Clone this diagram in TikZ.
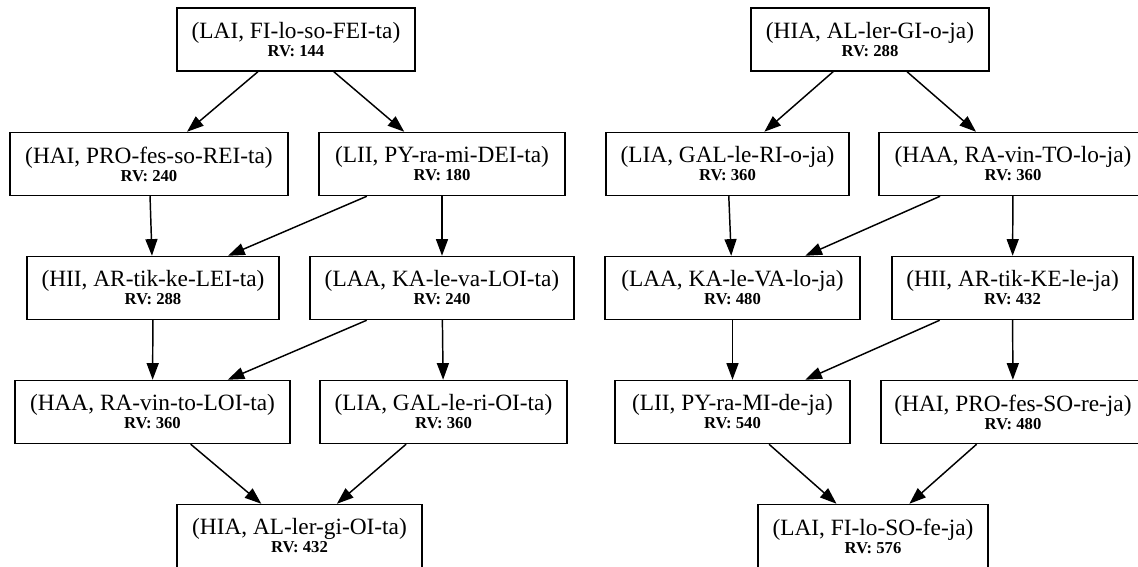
\documentclass[tikz,border=0pt]{standalone}
\usepackage{fontspec}
\setmainfont{Liberation Serif}
\usepackage{tikz}
\usetikzlibrary{positioning, arrows.meta, calc}

\newcommand{\rvtext}[2]{#1\\{\fontsize{12.5pt}{13.5pt}\selectfont\bfseries RV: #2}}

\tikzset{
  rvbox/.style={draw, fill=white, shape=rectangle, align=center, line width=1.1pt,
    minimum height=47.25pt, inner sep=0pt,
    font=\fontsize{17.5pt}{13.5pt}\selectfont},
}

\begin{document}
\begin{tikzpicture}[x=0.75pt,y=-0.75pt,->,>={Triangle[length=12.5pt,width=9pt]},line width=1.1pt]
  \useasboundingbox (0,0) rectangle (1138,567);
  % first tree (-ta)
  \node[rvbox, minimum width=178.5pt] (tlai) at (296,39.5)  {\rvtext{(LAI, FI-lo-so-FEI-ta)}{144}};
  \node[rvbox, minimum width=208.5pt] (thai) at (149,164)   {\rvtext{(HAI, PRO-fes-so-REI-ta)}{240}};
  \node[rvbox, minimum width=184.5pt] (tlii) at (442,164)   {\rvtext{(LII, PY-ra-mi-DEI-ta)}{180}};
  \node[rvbox, minimum width=189pt]   (thii) at (153,288)   {\rvtext{(HII, AR-tik-ke-LEI-ta)}{288}};
  \node[rvbox, minimum width=198pt]   (tlaa) at (442,288)   {\rvtext{(LAA, KA-le-va-LOI-ta)}{240}};
  \node[rvbox, minimum width=206.25pt] (thaa) at (152.5,412) {\rvtext{(HAA, RA-vin-to-LOI-ta)}{360}};
  \node[rvbox, minimum width=185.25pt] (tlia) at (443.5,412) {\rvtext{(LIA, GAL-le-ri-OI-ta)}{360}};
  \node[rvbox, minimum width=183.75pt] (thia) at (299.5,536) {\rvtext{(HIA, AL-ler-gi-OI-ta)}{432}};
  % second tree (-ja)
  \node[rvbox, minimum width=178.5pt] (jhia) at (870,39.5)  {\rvtext{(HIA, AL-ler-GI-o-ja)}{288}};
  \node[rvbox, minimum width=182.25pt] (jlia) at (727.5,164) {\rvtext{(LIA, GAL-le-RI-o-ja)}{360}};
  \node[rvbox, minimum width=201pt]   (jhaa) at (1013,164)  {\rvtext{(HAA, RA-vin-TO-lo-ja)}{360}};
  \node[rvbox, minimum width=191.25pt] (jlaa) at (732.5,288) {\rvtext{(LAA, KA-le-VA-lo-ja)}{480}};
  \node[rvbox, minimum width=180.75pt] (jhii) at (1012.5,288) {\rvtext{(HII, AR-tik-KE-le-ja)}{432}};
  \node[rvbox, minimum width=176.25pt] (jlii) at (732.5,412) {\rvtext{(LII, PY-ra-MI-de-ja)}{540}};
  \node[rvbox, minimum width=198pt]   (jhai) at (1013,412)  {\rvtext{(HAI, PRO-fes-SO-re-ja)}{480}};
  \node[rvbox, minimum width=172.5pt] (jlai) at (873,536)   {\rvtext{(LAI, FI-lo-SO-fe-ja)}{576}};

  \path
    (tlai) edge (thai)
    (tlai) edge (tlii)
    (thai) edge (thii)
    (tlii) edge (thii)
    (tlii) edge (tlaa)
    (thii) edge (thaa)
    (tlaa) edge (thaa)
    (tlaa) edge (tlia)
    (thaa) edge (thia)
    (tlia) edge (thia);
  \path
    (jhia) edge (jlia)
    (jhia) edge (jhaa)
    (jlia) edge (jlaa)
    (jhaa) edge (jlaa)
    (jhaa) edge (jhii)
    (jlaa) edge (jlii)
    (jhii) edge (jlii)
    (jhii) edge (jhai)
    (jlii) edge (jlai)
    (jhai) edge (jlai);
\end{tikzpicture}
\end{document}
